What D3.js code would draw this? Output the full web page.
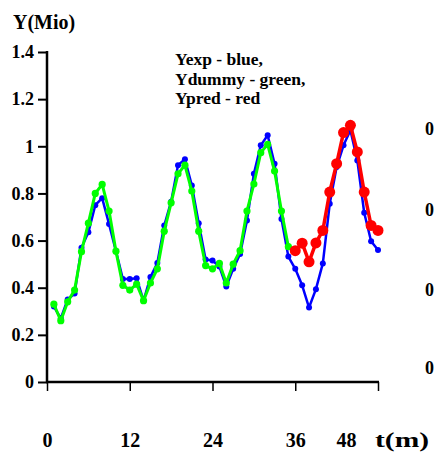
<!DOCTYPE html>
<html>
<head>
<meta charset="utf-8">
<script src="https://cdn.jsdelivr.net/npm/d3@7"></script>
<style>
  body { margin: 0; background: #fff; }
  text { font-family: "Liberation Serif", "Times New Roman", serif; font-weight: bold; fill: #000; }
</style>
</head>
<body>
<div id="chart"></div>
<script>
// values, monthly t = 1..48
const months = d3.range(1, 49);

const yExp = [0.32, 0.27, 0.35, 0.375, 0.57, 0.635, 0.75, 0.78, 0.67, 0.555, 0.437, 0.437,
  0.44, 0.345, 0.445, 0.505, 0.664, 0.765, 0.92, 0.945, 0.834, 0.674, 0.52, 0.515,
  0.49, 0.405, 0.48, 0.543, 0.685, 0.883, 1.004, 1.047, 0.926, 0.692, 0.532, 0.48,
  0.41, 0.316, 0.394, 0.503, 0.756, 0.912, 1.004, 1.068, 0.94, 0.718, 0.597, 0.56];

const yDummy = [0.33, 0.26, 0.34, 0.39, 0.553, 0.674, 0.80, 0.838, 0.725, 0.555, 0.41, 0.39,
  0.415, 0.345, 0.42, 0.48, 0.64, 0.76, 0.883, 0.92, 0.81, 0.64, 0.494, 0.48,
  0.503, 0.42, 0.50, 0.557, 0.725, 0.84, 0.973, 1.008, 0.895, 0.725, 0.574];

const predMonths = d3.range(36, 49);
const yPred = [0.557, 0.589, 0.51, 0.59, 0.643, 0.806, 0.926, 1.058, 1.089, 0.976, 0.806, 0.664, 0.643];

const yTicks = [0, 0.2, 0.4, 0.6, 0.8, 1, 1.2, 1.4];
const xTicks = [0, 12, 24, 36, 48];
const legendLines = ["Yexp - blue,", "Ydummy - green,", "Ypred - red"];
// what shows of the neighbouring chart's labels at the right edge
const sideLabels = ["0", "0", "0", "0"];

const width = 435, height = 454;
const svg = d3.select("#chart").append("svg")
  .attr("width", width)
  .attr("height", height);

const x = d3.scaleLinear().domain([0, 48]).range([47, 378]);
const y = d3.scaleLinear().domain([0, 1.4]).range([382, 52]);

// y axis
const yAxis = svg.append("g").attr("transform", `translate(${x(0)},0)`);
yAxis.call(d3.axisLeft(y).tickValues(d3.range(0, 1.41, 0.1)).tickSize(4).tickFormat(""));
yAxis.call(d3.axisLeft(y).tickValues(yTicks).tickSize(9).tickFormat(d => d3.format("")(d)).tickPadding(4));
yAxis.selectAll("path.domain").remove();
yAxis.selectAll("line").attr("stroke", "#000").attr("stroke-width", 2);
yAxis.selectAll("text").style("font-size", "18px");
svg.append("line")
  .attr("x1", x(0)).attr("x2", x(0))
  .attr("y1", y(1.4) - 1).attr("y2", y(0) + 1)
  .attr("stroke", "#000").attr("stroke-width", 2.5);

// x axis
const xAxis = svg.append("g").attr("transform", `translate(0,${y(0)})`);
xAxis.call(d3.axisBottom(x).tickValues(d3.range(0, 49)).tickSize(5).tickFormat(""));
xAxis.call(d3.axisBottom(x).tickValues(xTicks).tickSize(9).tickFormat(d3.format("")).tickPadding(42));
xAxis.selectAll("path.domain").remove();
xAxis.selectAll("line").attr("stroke", "#000").attr("stroke-width", 1.5);
xAxis.selectAll("text").style("font-size", "20px");
// the last label sits left of its tick, with the unit after it
xAxis.selectAll("text").filter(d => d === 48).attr("dx", "-1.6em");
xAxis.append("text")
  .attr("x", 375).attr("y", 51).attr("dy", "0.71em")
  .attr("text-anchor", "start")
  .attr("textLength", 54)
  .attr("lengthAdjust", "spacingAndGlyphs")
  .style("font-size", "20px")
  .text("t(m)");
svg.append("line")
  .attr("x1", x(0) - 1).attr("x2", x(48) + 1)
  .attr("y1", y(0)).attr("y2", y(0))
  .attr("stroke", "#000").attr("stroke-width", 2.5);

svg.append("text")
  .attr("x", 13).attr("y", 29)
  .style("font-size", "20px")
  .text("Y(Mio)");

// legend as plain text
svg.append("g").selectAll("text")
  .data(legendLines)
  .join("text")
  .attr("x", 175)
  .attr("y", (d, i) => 65 + i * 19.5)
  .style("font-size", "17.5px")
  .text(d => d);

svg.append("g").selectAll("text")
  .data(sideLabels)
  .join("text")
  .attr("x", 425)
  .attr("y", (d, i) => [129, 210, 290, 368][i])
  .attr("dy", "0.35em")
  .style("font-size", "18px")
  .text(d => d);

function series(xs, ys, color, lw, r) {
  const pts = ys.map((v, i) => [xs[i], v]);
  svg.append("path")
    .datum(pts)
    .attr("fill", "none")
    .attr("stroke", color)
    .attr("stroke-width", lw)
    .attr("stroke-linejoin", "round")
    .attr("d", d3.line().x(d => x(d[0])).y(d => y(d[1])));
  svg.append("g").selectAll("circle")
    .data(pts)
    .join("circle")
    .attr("cx", d => x(d[0]))
    .attr("cy", d => y(d[1]))
    .attr("r", r)
    .attr("fill", color);
}

series(months, yExp, "#0000ff", 2.5, 3);
series(months.slice(0, yDummy.length), yDummy, "#00ff00", 3, 3.6);
series(predMonths, yPred, "#ff0000", 3.5, 5.5);
</script>
</body>
</html>
